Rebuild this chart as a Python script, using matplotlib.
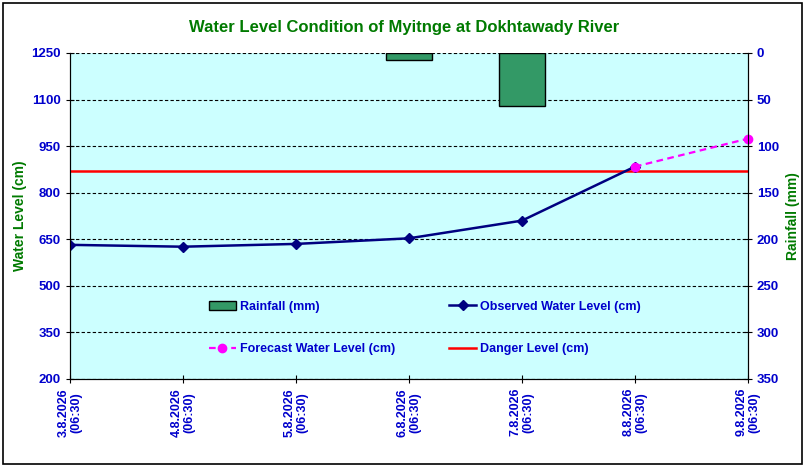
import numpy as np
import matplotlib.pyplot as plt
from matplotlib.patches import Rectangle

plt.rcParams['font.family'] = ['Liberation Sans', 'DejaVu Sans']

dates = ['3.8.2026\n(06:30)', '4.8.2026\n(06:30)', '5.8.2026\n(06:30)',
         '6.8.2026\n(06:30)', '7.8.2026\n(06:30)', '8.8.2026\n(06:30)',
         '9.8.2026\n(06:30)']
observed = [632, 626, 635, 653, 710, 884]
forecast_idx = [5, 6]
forecast = [884, 974]
rainfall = [0, 0, 0, 7.5, 56.6, 0, 0]
danger_level = 870

blue = '#0000CC'
green = '#007A00'

fig = plt.figure(figsize=(8.09, 4.69), dpi=100)
fig.patch.set_facecolor('white')
fig.patches.append(Rectangle((0.0037, 0.0107), 0.9876, 0.983, transform=fig.transFigure,
                             fill=False, edgecolor='black', linewidth=1.2))

ax = fig.add_axes([0.0865, 0.192, 0.838, 0.695])
ax.set_facecolor('#CCFFFF')
x = np.arange(len(dates))

ax.set_ylim(200, 1250)
ax.set_yticks(np.arange(200, 1251, 150))
ax.set_xlim(0, len(dates) - 1)
ax.set_xticks(x)
ax.set_xticklabels(dates, rotation=90, color=blue, fontsize=9, fontweight='bold',
                   linespacing=1.15)
for t in ax.get_yticklabels():
    t.set_color(blue)
    t.set_fontweight('bold')
    t.set_fontsize(9.5)
ax.grid(axis='y', color='black', linestyle=(0, (3, 2)), linewidth=0.8)
ax.set_axisbelow(True)
ax.spines['top'].set_visible(False)
ax.tick_params(axis='both', direction='inout', length=6, color='black')
ax.set_ylabel('Water Level (cm)', color=green, fontsize=10, fontweight='bold', labelpad=3)

ax.axhline(danger_level, color='#FF0000', linewidth=1.8, zorder=3, label='Danger Level (cm)')
ax.plot(x[:len(observed)], observed, color='#000080', linewidth=1.8, marker='D',
        markersize=5, zorder=4, label='Observed Water Level (cm)')
ax.plot(forecast_idx, forecast, color='#FF00FF', linewidth=1.6, linestyle=(0, (3, 2)),
        marker='o', markersize=6, zorder=5, clip_on=False, label='Forecast Water Level (cm)')

ax2 = ax.twinx()
ax2.set_ylim(350, 0)
ax2.set_yticks(np.arange(0, 351, 50))
rain = np.array(rainfall)
has_rain = rain > 0
ax2.bar(x[has_rain], rain[has_rain], width=0.4, color='#339966', edgecolor='black',
        linewidth=1.0, label='Rainfall (mm)')
for t in ax2.get_yticklabels():
    t.set_color(blue)
    t.set_fontweight('bold')
    t.set_fontsize(9.5)
ax2.tick_params(axis='y', direction='inout', length=6)
ax2.spines['top'].set_visible(False)
ax2.set_ylabel('Rainfall (mm)', color=green, fontsize=10, fontweight='bold', labelpad=5)

fig.text(0.5, 0.942, 'Water Level Condition of Myitnge at Dokhtawady River',
         ha='center', va='center', color=green, fontsize=12, fontweight='bold')

h1, l1 = ax.get_legend_handles_labels()
h2, l2 = ax2.get_legend_handles_labels()
handles = [h2[0], h1[2], h1[1], h1[0]]
labels = [l2[0], l1[2], l1[1], l1[0]]
leg = ax2.legend(handles, labels, ncol=2, frameon=False, loc='center left',
                 bbox_to_anchor=(0.188, 0.156), fontsize=9, handlelength=2.2,
                 handletextpad=0.3, labelspacing=2.45, columnspacing=4.3)
for t in leg.get_texts():
    t.set_color(blue)
    t.set_fontweight('bold')

plt.savefig('out.png', dpi=100)
